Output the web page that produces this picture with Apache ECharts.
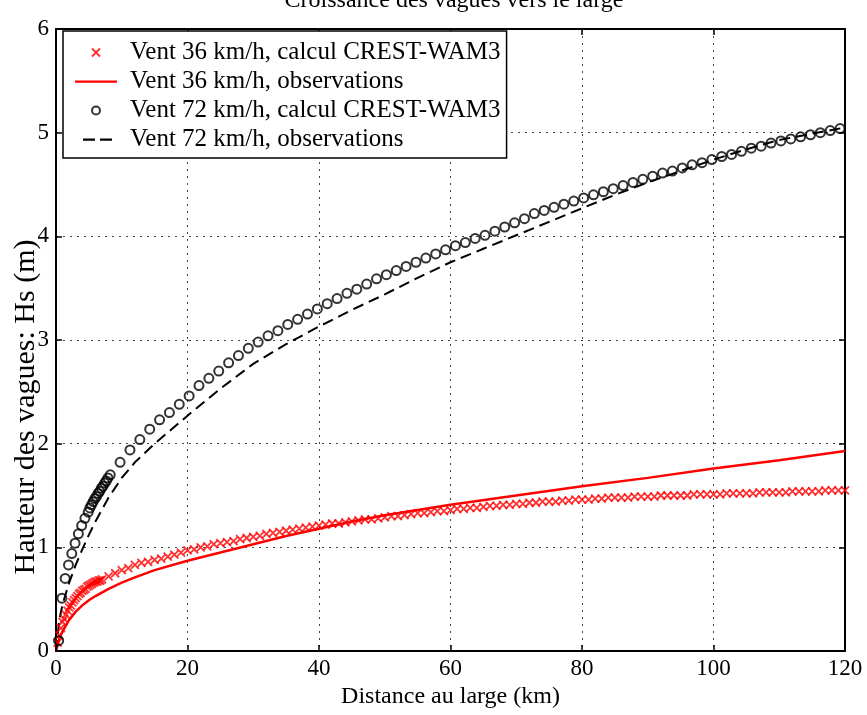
<!DOCTYPE html>
<html><head><meta charset="utf-8">
<script src="https://cdn.jsdelivr.net/npm/echarts@6/dist/echarts.min.js"></script>
<style>html,body{margin:0;padding:0;background:#fff}#c{width:867px;height:715px}</style>
</head><body><div id="c"></div><script>
// ---- data ----
const seriesNames = ['Vent 36 km/h, calcul CREST-WAM3','Vent 36 km/h, observations','Vent 72 km/h, calcul CREST-WAM3','Vent 72 km/h, observations'];
const titleText = 'Croissance des vagues vers le large';
const xName = 'Distance au large (km)';
const yName = 'Hauteur des vagues: Hs (m)';

const crossX = [0.25,0.5,0.75,1,1.25,1.5,1.75,2,2.25,2.5,2.75,3,3.25,3.5,3.75,4,4.25,4.5,4.75,5,5.25,5.5,5.75,6,6.25,6.5,6.75,
7,8,9,10,11,12,13,14,15,16,17,18,19,20,21,22,23,24,25,26,27,28,29,30,31,32,33,34,35,36,37,38,39,40,
41,42,43,44,45,46,47,48,49,50,51,52,53,54,55,56,57,58,59,60,61,62,63,64,65,66,67,68,69,70,
71,72,73,74,75,76,77,78,79,80,81,82,83,84,85,86,87,88,89,90,91,92,93,94,95,96,97,98,99,100,
101,102,103,104,105,106,107,108,109,110,111,112,113,114,115,116,117,118,119,120];
const crossY = [0.08,0.15,0.22,0.28,0.31,0.35,0.39,0.42,0.44,0.47,0.49,0.51,0.53,0.55,0.56,0.58,0.59,0.60,0.62,0.63,0.64,0.65,0.66,0.67,0.67,0.68,0.68,
0.69,0.72,0.75,0.78,0.80,0.83,0.85,0.86,0.88,0.89,0.91,0.93,0.95,0.97,0.98,1.00,1.01,1.03,1.04,1.05,1.06,1.08,1.09,1.10,1.11,1.13,1.14,1.15,1.16,1.17,1.18,1.19,1.20,1.21,
1.22,1.23,1.23,1.24,1.25,1.26,1.27,1.27,1.28,1.29,1.30,1.30,1.31,1.32,1.33,1.33,1.34,1.35,1.35,1.36,1.37,1.37,1.38,1.38,1.39,1.40,1.40,1.41,1.41,1.42,
1.42,1.43,1.43,1.44,1.44,1.44,1.45,1.45,1.46,1.46,1.46,1.47,1.47,1.48,1.48,1.48,1.48,1.49,1.49,1.49,1.49,1.50,1.50,1.50,1.50,1.50,1.51,1.51,1.51,1.51,
1.51,1.52,1.52,1.52,1.52,1.52,1.53,1.53,1.53,1.53,1.53,1.54,1.54,1.54,1.54,1.54,1.55,1.55,1.55,1.55];

const obs36X = [0,0.5,1,2,3,4,5,6,8,10,12,15,20,25,30,35,40,45,50,55,60,70,80,90,100,110,120];
const obs36Y = [0,0.12,0.19,0.30,0.38,0.44,0.49,0.53,0.60,0.66,0.71,0.78,0.87,0.95,1.03,1.11,1.18,1.25,1.31,1.36,1.41,1.50,1.59,1.67,1.76,1.84,1.93];

const circleX = [0.4,0.9,1.4,1.9,2.4,2.9,3.4,3.9,4.4,4.9,5.15,5.4,5.65,5.9,6.15,6.4,6.65,6.9,7.15,7.4,7.65,7.9,
8.25,9.75,11.25,12.75,14.25,15.75,17.25,18.75,20.25,21.75,23.25,24.75,26.25,27.75,29.25,30.75,32.25,33.75,35.25,36.75,38.25,39.75,
41.25,42.75,44.25,45.75,47.25,48.75,50.25,51.75,53.25,54.75,56.25,57.75,59.25,60.75,62.25,63.75,65.25,66.75,68.25,69.75,
71.25,72.75,74.25,75.75,77.25,78.75,80.25,81.75,83.25,84.75,86.25,87.75,89.25,90.75,92.25,93.75,95.25,96.75,98.25,99.75,
101.25,102.75,104.25,105.75,107.25,108.75,110.25,111.75,113.25,114.75,116.25,117.75,119.25];
const circleY = [0.10,0.51,0.70,0.83,0.94,1.04,1.13,1.21,1.28,1.34,1.38,1.41,1.44,1.47,1.49,1.52,1.54,1.57,1.59,1.62,1.64,1.67,
1.70,1.82,1.94,2.04,2.14,2.23,2.30,2.38,2.46,2.56,2.63,2.70,2.78,2.85,2.92,2.98,3.04,3.09,3.15,3.20,3.25,3.30,
3.35,3.40,3.45,3.49,3.54,3.59,3.63,3.67,3.71,3.75,3.79,3.83,3.87,3.91,3.94,3.98,4.01,4.05,4.09,4.13,
4.17,4.22,4.25,4.28,4.31,4.34,4.37,4.40,4.43,4.46,4.49,4.52,4.55,4.58,4.61,4.63,4.66,4.69,4.71,4.74,
4.77,4.79,4.82,4.85,4.87,4.90,4.92,4.94,4.96,4.98,5.00,5.02,5.04];

const obs72X = [0,0.5,1,2,3,4,5,6,8,10,12,15,20,25,30,35,40,45,50,55,60,65,70,75,80,85,90,95,100,105,110,115,120];
const obs72Y = [0,0.30,0.45,0.66,0.83,0.98,1.12,1.25,1.48,1.67,1.82,2.00,2.27,2.53,2.77,2.96,3.13,3.29,3.44,3.60,3.75,3.88,4.01,4.14,4.27,4.40,4.52,4.63,4.74,4.84,4.93,4.99,5.05];

const xMin = 0, xMax = 120, xStep = 20;
const yMin = 0, yMax = 6, yStep = 1;

// ---- chart ----
const zip = (a, b) => a.map((v, i) => [v, b[i]]);
const FONT = 'Liberation Serif';
const chart = echarts.init(document.getElementById('c'), null, {renderer: 'canvas'});
const axisBase = {
  type: 'value',
  axisLine: {show: true, onZero: false, lineStyle: {color: '#000', width: 2}},
  axisTick: {show: true, inside: true, length: 6, lineStyle: {color: '#000', width: 1.5}},
};
const lineIconSolid = 'path://M0,0M42,8M0,3L42,3L42,5.2L0,5.2Z';
const lineIconDash = 'path://M0,0M42,8M8,3L20,3L20,5.2L8,5.2ZM25,3L37,3L37,5.2L25,5.2Z';
chart.setOption({
  animation: false,
  backgroundColor: '#fff',
  title: {
    text: titleText, left: 449, top: -16, textAlign: 'center',
    textStyle: {fontFamily: FONT, fontSize: 24, fontWeight: 'normal', color: '#000'}
  },
  grid: {left: 56, right: 22, top: 29, bottom: 64, outerBoundsMode: 'none', containLabel: false},
  legend: {
    orient: 'vertical', left: 63, top: 31,
    data: [
      {name: seriesNames[0]},
      {name: seriesNames[1], icon: lineIconSolid, itemStyle: {color: '#ff0000', borderWidth: 0}},
      {name: seriesNames[2]},
      {name: seriesNames[3], icon: lineIconDash, itemStyle: {color: '#000', borderWidth: 0}}
    ],
    backgroundColor: '#fff', borderColor: '#000', borderWidth: 1.5,
    padding: [9, 6, 6, 12],
    itemWidth: 42, itemHeight: 8, itemGap: 4,
    textStyle: {fontFamily: FONT, fontSize: 25, color: '#000', lineHeight: 24, padding: [0, 0, 0, 8]},
    z: 10
  },
  xAxis: [
    Object.assign({}, axisBase, {
      min: xMin, max: xMax, interval: xStep, position: 'bottom',
      name: xName, nameLocation: 'middle', nameGap: 32,
      nameTextStyle: {fontFamily: FONT, fontSize: 24, color: '#000'},
      axisLabel: {fontFamily: FONT, fontSize: 23, color: '#000', margin: 6},
      splitLine: {show: true, lineStyle: {type: [2, 5], color: '#444', width: 1}}
    }),
    Object.assign({}, axisBase, {
      min: xMin, max: xMax, interval: xStep, position: 'top',
      axisLabel: {show: false}, splitLine: {show: false}
    })
  ],
  yAxis: [
    Object.assign({}, axisBase, {
      min: yMin, max: yMax, interval: yStep, position: 'left',
      name: yName, nameLocation: 'middle', nameGap: 15, nameRotate: 90, nameMoveOverlap: false,
      nameTextStyle: {fontFamily: FONT, fontSize: 30, color: '#000', padding: [0, 134, 0, 0]},
      axisLabel: {fontFamily: FONT, fontSize: 23, color: '#000', margin: 7},
      splitLine: {show: true, lineStyle: {type: [2, 5], color: '#444', width: 1}}
    }),
    Object.assign({}, axisBase, {
      min: yMin, max: yMax, interval: yStep, position: 'right',
      axisLabel: {show: false}, splitLine: {show: false}
    })
  ],
  series: [
    {
      name: seriesNames[0], type: 'scatter', data: zip(crossX, crossY),
      symbol: 'path://M0,0L8,8M8,0L0,8', symbolSize: 8,
      itemStyle: {color: 'none', borderColor: '#ff0000', borderWidth: 1.8},
      z: 3
    },
    {
      name: seriesNames[1], type: 'line', data: zip(obs36X, obs36Y),
      symbol: 'none', showSymbol: false, smooth: false,
      lineStyle: {color: '#ff0000', width: 2.5}, itemStyle: {color: '#ff0000'},
      z: 2
    },
    {
      name: seriesNames[2], type: 'scatter', data: zip(circleX, circleY),
      symbol: 'circle', symbolSize: 9,
      itemStyle: {color: 'rgba(255,255,255,0)', borderColor: '#000', borderWidth: 2},
      z: 4
    },
    {
      name: seriesNames[3], type: 'line', data: zip(obs72X, obs72Y),
      symbol: 'none', showSymbol: false, smooth: false,
      lineStyle: {color: '#000', width: 2, type: [11, 6]}, itemStyle: {color: '#000'},
      z: 2
    }
  ]
});
</script></body></html>
